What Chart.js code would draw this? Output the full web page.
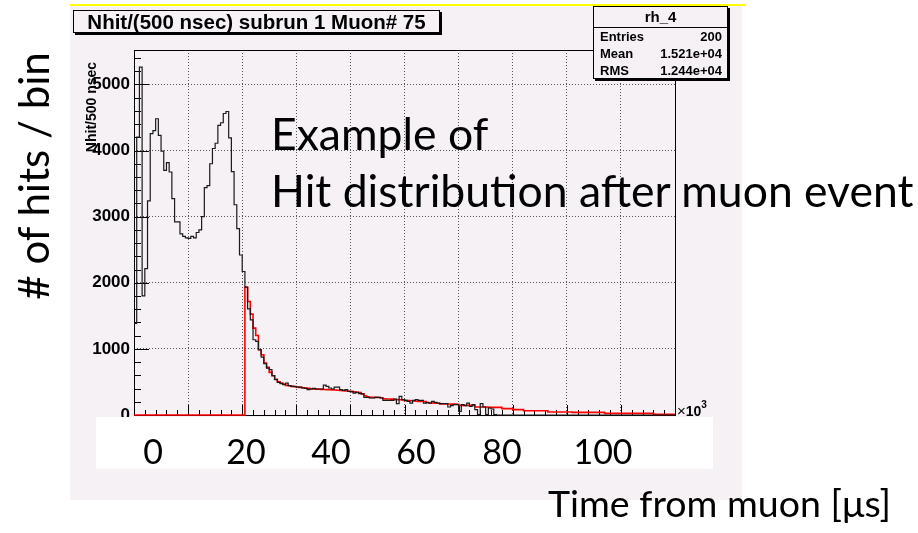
<!DOCTYPE html>
<html>
<head>
<meta charset="utf-8">
<script src="https://cdn.jsdelivr.net/npm/chart.js@4/dist/chart.umd.min.js"></script>
<style>
  body { margin: 0; width: 918px; height: 533px; background: #fff; position: relative; overflow: hidden;
         font-family: "Liberation Sans", Arial, sans-serif; }
  #pad { position: absolute; left: 70px; top: 6px; width: 672px; height: 494px; background: #f5f1f5; }
  #topline { position: absolute; left: 70px; top: 4px; width: 675px; height: 2px; background: #ffff00; }
  #title { position: absolute; left: 73px; top: 10px; width: 365px; height: 21px; border: 1px solid #000;
           box-shadow: 2px 2px 0 #000; background: #f5f1f5; font-weight: bold; font-size: 20.5px;
           line-height: 21px; text-align: center; }
  #stats { position: absolute; left: 593px; top: 6px; width: 133px; height: 71px; border: 1px solid #000;
           box-shadow: 2px 2px 0 #000; background: #f5f1f5; font-weight: bold; font-size: 13px; }
  #stats .head { height: 20px; line-height: 20px; text-align: center; border-bottom: 1px solid #000; font-size: 15px; }
  #stats .row { height: 17px; line-height: 17px; padding: 0 5px 0 6px; display: flex; justify-content: space-between; }
  #ytitle { position: absolute; left: 91px; top: 107px; font-weight: bold; font-size: 14px; white-space: nowrap;
            transform: translate(-50%, -50%) rotate(-90deg); }
  #xexp { position: absolute; left: 677px; top: 401px; font-size: 15px; white-space: nowrap; }
  #xexp b { font-size: 14px; }
  #xexp sup { font-size: 10px; font-weight: bold; position: relative; top: -2px; }
  #xbox { position: absolute; left: 96px; top: 417px; width: 617px; height: 52px; background: #fff; }
  .big { position: absolute; font-family: Lato, "Open Sans", sans-serif; color: #000; white-space: nowrap; }
  .xl { position: absolute; top: 430px; font-family: Lato, sans-serif; font-size: 34px; transform: translateX(-50%); }
</style>
</head>
<body>
<div id="topline"></div>
<div id="pad"><canvas id="histo-chart" width="672" height="494"></canvas></div>
<div id="title">Nhit/(500 nsec) subrun 1 Muon# 75</div>
<div id="stats">
  <div class="head">rh_4</div>
  <div class="row"><span>Entries</span><span>200</span></div>
  <div class="row"><span>Mean</span><span>1.521e+04</span></div>
  <div class="row"><span>RMS</span><span>1.244e+04</span></div>
</div>
<div id="ytitle">Nhit/500 nsec</div>
<div id="xexp">×<b>10</b><sup>3</sup></div>
<div id="xbox"></div>
<div id="xlabels"></div>
<div class="big" style="left:33px; top:176px; font-size:42px; transform: translate(-50%, -50%) rotate(-90deg);"># of hits / bin</div>
<div class="big" style="left:271px; top:104px; font-size:44.5px; line-height:57px;">Example of<br>Hit distribution after muon event</div>
<div class="big" style="left:548px; top:480px; font-size:37.5px;">Time from muon [μs]</div>

<script>
// histogram binning: 200 bins of 500 nsec, x axis in units of 10^3 nsec
var binWidth = 0.5;

// Nhit per bin (black histogram)
var hitsPerBin = [
    1385, 4204, 5262, 1803, 2215, 3238, 4255, 4300, 4480, 4230,
    3990, 3700, 3817, 3675, 3273, 2920, 2920, 2740, 2700, 2680,
    2670, 2700, 2680, 2760, 2800, 3000, 3440, 3470, 3800, 4030,
    4110, 4380, 4420, 4560, 4590, 4190, 3680, 3180, 2820, 2420,
    2170, 1933, 1606, 1440, 1138, 1113, 987, 876, 775, 710,
    685, 594, 534, 493, 473, 458, 483, 443, 433, 433,
    423, 423, 408, 403, 383, 393, 403, 393, 393, 393,
    453, 433, 408, 393, 423, 423, 383, 373, 383, 357,
    352, 332, 342, 322, 320, 267, 267, 257, 257, 267,
    267, 257, 222, 222, 222, 222, 242, 171, 282, 232,
    222, 206, 181, 222, 232, 222, 222, 181, 191, 181,
    206, 191, 181, 171, 171, 171, 121, 141, 156, 156,
    55, 156, 141, 181, 131, 156, 81, 5, 171, 121,
    5, 106, 91, 5, 0, 0, 0, 0, 0, 0,
    0, 0, 0, 0, 0, 0, 0, 0, 0, 0,
    0, 0, 0, 0, 0, 0, 0, 0, 0, 0,
    0, 0, 0, 0, 0, 0, 0, 0, 0, 0,
    0, 0, 0, 0, 0, 0, 0, 0, 0, 0,
    0, 0, 0, 0, 0, 0, 0, 0, 0, 0,
    0, 0, 0, 0, 0, 0, 0, 0, 0, 0
];

// fitted decay curve per bin (red)
var fitPerBin = [
    0, 0, 0, 0, 0, 0, 0, 0, 0, 0,
    0, 0, 0, 0, 0, 0, 0, 0, 0, 0,
    0, 0, 0, 0, 0, 0, 0, 0, 0, 0,
    0, 0, 0, 0, 0, 0, 0, 0, 0, 0,
    0, 1933, 1717, 1525, 1314, 1203, 987, 911, 785, 720,
    644, 594, 540, 503, 483, 468, 448, 443, 433, 428,
    423, 418, 413, 408, 403, 398, 395, 392, 390, 388,
    386, 384, 382, 380, 378, 375, 372, 368, 364, 360,
    357, 350, 345, 340, 320, 292, 275, 267, 267, 267,
    265, 262, 245, 242, 242, 240, 233, 232, 230, 228,
    218, 217, 216, 214, 207, 206, 205, 204, 185, 182,
    181, 180, 178, 168, 167, 167, 166, 165, 164, 163,
    146, 146, 146, 146, 146, 146, 122, 122, 122, 122,
    122, 116, 116, 116, 116, 116, 96, 96, 96, 96,
    81, 81, 81, 81, 65, 65, 65, 65, 65, 65,
    65, 65, 65, 45, 45, 45, 45, 45, 45, 45,
    45, 45, 40, 40, 40, 40, 40, 40, 40, 40,
    40, 40, 40, 40, 25, 25, 25, 25, 25, 25,
    25, 25, 25, 25, 25, 25, 25, 25, 25, 25,
    25, 25, 10, 10, 10, 10, 10, 10, 10, 10
];

// axis ticks
var yTickValues = [0, 1000, 2000, 3000, 4000, 5000];
var xTickValues = [0, 10, 20, 30, 40, 50, 60, 70, 80, 90, 100];

// labels written under the axis
var timeLabels = ["0", "20", "40", "60", "80", "100"];
var timeLabelX = [153, 246, 331, 416, 502, 603];

var xMin = 0, xMax = 100, yMax = 5520;

// turn bin contents into step points (left edge of each bin + closing point)
function toSteps(values) {
    var pts = values.map(function (v, i) { return {x: i * binWidth, y: v}; });
    pts.push({x: values.length * binWidth, y: values[values.length - 1]});
    return pts;
}

// ROOT style frame with inward ticks
var rootFrame = {
    id: 'rootFrame',
    beforeDatasetsDraw: function (chart) {
        var ctx = chart.ctx, a = chart.chartArea;
        var xs = chart.scales.x, ys = chart.scales.y;
        ctx.save();
        ctx.strokeStyle = '#000';
        ctx.lineWidth = 1;
        ctx.beginPath();
        for (var v = 0; v <= yMax; v += 200) {
            var py = Math.round(ys.getPixelForValue(v)) + 0.5;
            var len = (v % 1000 === 0) ? 15 : 7;
            ctx.moveTo(a.left, py);
            ctx.lineTo(a.left + len, py);
        }
        for (var t = 0; t <= xMax; t += 2) {
            var px = Math.round(xs.getPixelForValue(t)) + 0.5;
            var l = (t % 10 === 0) ? 10 : 5;
            ctx.moveTo(px, a.bottom);
            ctx.lineTo(px, a.bottom - l);
        }
        ctx.stroke();
        ctx.strokeRect(Math.round(a.left) + 0.5, Math.round(a.top) + 0.5,
            Math.round(a.right - a.left), Math.round(a.bottom - a.top));
        ctx.restore();
    }
};

function gridColor(edgeValues) {
    return function (c) {
        return edgeValues.indexOf(c.tick.value) >= 0 ? 'rgba(0,0,0,0)' : '#555';
    };
}

function fixedTicks(values) {
    return function (s) {
        s.ticks = values.map(function (v) { return {value: v}; });
    };
}

var ctx = document.getElementById('histo-chart').getContext('2d');
var chart = new Chart(ctx, {
    type: 'line',
    data: {
        datasets: [{
            label: 'rh_4',
            data: toSteps(hitsPerBin),
            stepped: 'before',
            borderColor: '#1a1a1a',
            borderWidth: 1.2,
            pointRadius: 0,
            fill: false,
            clip: 3
        }, {
            label: 'fit',
            data: toSteps(fitPerBin),
            stepped: 'before',
            borderColor: '#ff0000',
            borderWidth: 1.6,
            pointRadius: 0,
            fill: false,
            clip: 3
        }]
    },
    options: {
        responsive: false,
        animation: false,
        devicePixelRatio: 1,
        layout: {padding: {left: 0, top: 44, right: 67, bottom: 0}},
        plugins: {legend: {display: false}, tooltip: {enabled: false}},
        scales: {
            x: {
                type: 'linear',
                min: xMin,
                max: xMax,
                afterBuildTicks: fixedTicks(xTickValues),
                ticks: {display: false},
                grid: {color: gridColor([xMin, xMax]), drawTicks: false, lineWidth: 1},
                border: {display: false, dash: [1, 2]},
                afterFit: function (s) { s.height = 85; }
            },
            y: {
                type: 'linear',
                min: 0,
                max: yMax,
                afterBuildTicks: fixedTicks(yTickValues),
                ticks: {
                    padding: 4,
                    color: '#000',
                    callback: function (v) { return String(v); },
                    font: {family: '"Liberation Sans", Arial, sans-serif', weight: 'bold', size: 17}
                },
                grid: {color: gridColor([0]), drawTicks: false, lineWidth: 1},
                border: {display: false, dash: [1, 2]},
                afterFit: function (s) { s.width = 64; }
            }
        }
    },
    plugins: [rootFrame]
});

// labels under the axis, in the white strip
var holder = document.getElementById('xlabels');
timeLabels.forEach(function (txt, i) {
    var el = document.createElement('div');
    el.className = 'xl';
    el.style.left = timeLabelX[i] + 'px';
    el.textContent = txt;
    holder.appendChild(el);
});
</script>
</body>
</html>
